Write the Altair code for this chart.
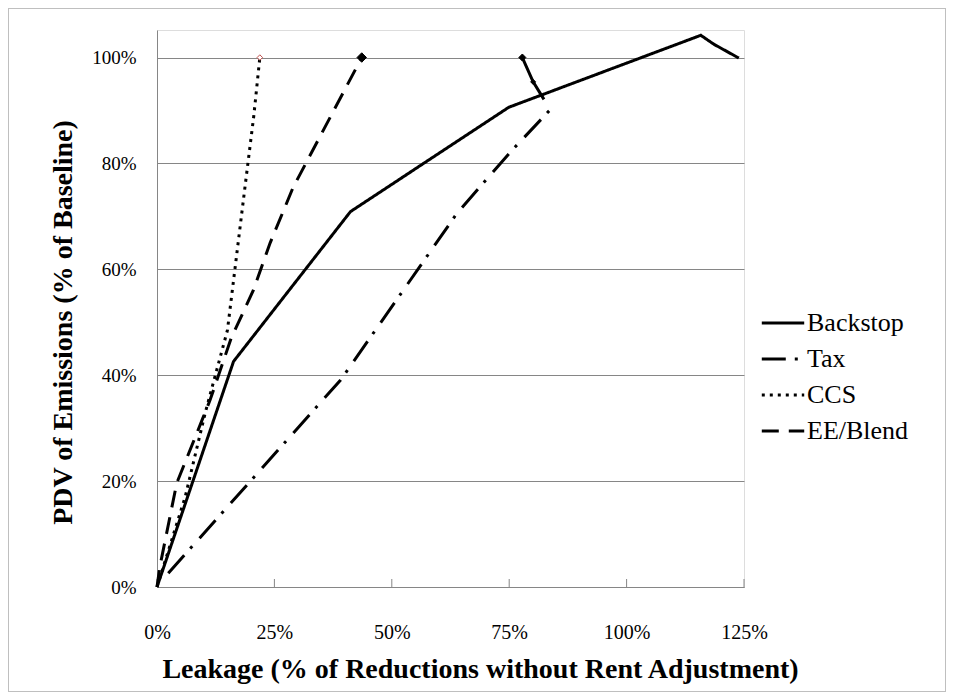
import altair as alt
import pandas as pd

# ---- data (fractions: 0.25 = 25%) ----
backstop_x = [0.0, 0.163, 0.412, 0.749, 1.158, 1.186, 1.239]
backstop_y = [0.0, 0.426, 0.709, 0.906, 1.042, 1.025, 0.999]

tax_x = [0.024, 0.391, 0.639, 0.753, 0.838]
tax_y = [0.026, 0.391, 0.706, 0.822, 0.902]

tax_tail_x = [0.824, 0.801, 0.778]
tax_tail_y = [0.921, 0.954, 1.0]

ccs_x = [0.0, 0.060, 0.103, 0.150, 0.188, 0.206, 0.219]
ccs_y = [0.0, 0.170, 0.330, 0.485, 0.760, 0.889, 1.0]

ee_x = [0.0, 0.006, 0.042, 0.113, 0.158, 0.205, 0.241, 0.290, 0.436]
ee_y = [0.0, 0.038, 0.196, 0.353, 0.470, 0.560, 0.650, 0.755, 1.0]

marker_x = [0.219, 0.436, 0.778, 0.801]
marker_y = [1.0, 1.0, 1.0, 0.954]
marker_fill = ["#ffffff", "#000000", "#000000", "#000000"]
marker_stroke = ["#c0504d", "#000000", "#000000", "#000000"]
marker_size = [30, 90, 50, 25]

series_names = ["Backstop", "Tax", "CCS", "EE/Blend"]
x_ticks = [0.0, 0.25, 0.5, 0.75, 1.0, 1.25]
y_ticks = [0.0, 0.2, 0.4, 0.6, 0.8, 1.0]

rows = []
for name, xs, ys in [("Backstop", backstop_x, backstop_y), ("Tax", tax_x, tax_y),
                     ("CCS", ccs_x, ccs_y), ("EE/Blend", ee_x, ee_y)]:
    for i, (a, b) in enumerate(zip(xs, ys)):
        rows.append({"series": name, "x": a, "y": b, "order": i})
lines_df = pd.DataFrame(rows)
tail_df = pd.DataFrame({"x": tax_tail_x, "y": tax_tail_y, "order": list(range(len(tax_tail_x)))})
markers_df = pd.DataFrame({"x": marker_x, "y": marker_y, "fill": marker_fill,
                           "stroke": marker_stroke, "size": marker_size})
ticks_df = pd.DataFrame({"x": x_ticks})

W, H = 587, 557
FONT = "Times New Roman, Liberation Serif, serif"
GRAY = "#868686"

xscale = alt.Scale(domain=[0, 1.25], nice=False, zero=False)
yscale = alt.Scale(domain=[0, 1.052], nice=False, zero=False)

xaxis = alt.Axis(values=x_ticks, format=".0%", title="Leakage (% of Reductions without Rent Adjustment)",
                 grid=False, ticks=False, domainColor=GRAY, domainWidth=1, labelFlush=False,
                 labelFont=FONT, labelFontSize=20, labelColor="black", labelPadding=35,
                 titleFont=FONT, titleFontSize=28, titleFontWeight="bold", titleColor="black",
                 titleX=323, titleY=90, titleAnchor="start", titleAlign="center", titleBaseline="alphabetic")
yaxis = alt.Axis(values=y_ticks, format=".0%", title="PDV of Emissions (% of Baseline)",
                 grid=True, gridColor=GRAY, gridWidth=1, ticks=False, labelFlush=False,
                 domainColor=GRAY, domainWidth=1,
                 labelFont=FONT, labelFontSize=19, labelColor="black", labelPadding=21,
                 titleFont=FONT, titleFontSize=28, titleFontWeight="bold", titleColor="black",
                 titleX=-94, titleY=292, titleAngle=270, titleAlign="center", titleBaseline="middle",
                 titleAnchor="start")

dash_scale = alt.Scale(domain=series_names,
                       range=[[1, 0], [24, 9, 3, 11], [3, 5], [17, 10]])

lines = alt.Chart(lines_df).mark_line(color="black", strokeWidth=3, clip=False).encode(
    x=alt.X("x:Q", scale=xscale, axis=xaxis),
    y=alt.Y("y:Q", scale=yscale, axis=yaxis),
    strokeDash=alt.StrokeDash("series:N", scale=dash_scale, sort=series_names,
                              legend=alt.Legend(title=None, orient="none", legendX=603, legendY=270,
                                                labelFont=FONT, labelFontSize=26, labelColor="black",
                                                symbolType="stroke", symbolSize=1800,
                                                symbolStrokeWidth=3, symbolStrokeColor="black",
                                                rowPadding=-3, labelOffset=1)),
    detail="series:N",
    order="order:Q",
)

tail = alt.Chart(tail_df).mark_line(color="black", strokeWidth=3).encode(
    x=alt.X("x:Q", scale=xscale), y=alt.Y("y:Q", scale=yscale), order="order:Q")

markers = alt.Chart(markers_df).mark_point(shape="diamond", filled=True, strokeWidth=1, opacity=1).encode(
    x=alt.X("x:Q", scale=xscale), y=alt.Y("y:Q", scale=yscale),
    fill=alt.Fill("fill:N", scale=None), stroke=alt.Stroke("stroke:N", scale=None),
    size=alt.Size("size:Q", scale=None))

ticks = alt.Chart(ticks_df).mark_rule(color=GRAY, strokeWidth=1).encode(
    x=alt.X("x:Q", scale=xscale), y=alt.value(H - 8), y2=alt.value(H))

frame = alt.Chart(ticks_df).mark_rect(fill=None, stroke="#bfbfbf", strokeWidth=1).encode(
    x=alt.value(-148.5), x2=alt.value(W + 201.5), y=alt.value(-21.5), y2=alt.value(H + 104.5))

chart = alt.layer(frame, ticks, lines, tail, markers).properties(
    width=W, height=H,
    autosize=alt.AutoSizeParams(type="none"),
    padding={"left": 149, "top": 22, "right": 202, "bottom": 105},
).configure_view(stroke=None).configure(background="white", font=FONT)

chart.save("out.html", embed_options={"renderer": "svg", "actions": False})
